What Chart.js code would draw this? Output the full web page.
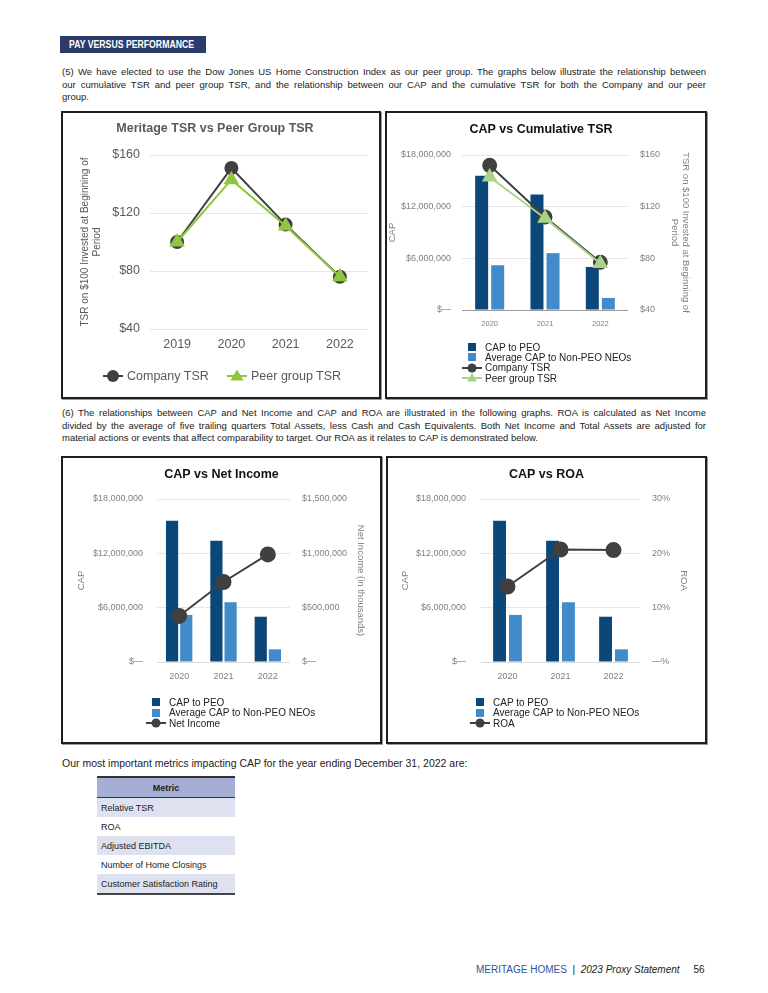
<!DOCTYPE html>
<html>
<head>
<meta charset="utf-8">
<script src="https://cdn.jsdelivr.net/npm/chart.js@4.4.1/dist/chart.umd.min.js"></script>
<style>
  body { margin: 0; width: 768px; height: 993px; background: #fff; position: relative; overflow: hidden;
         font-family: "Liberation Sans", Arial, sans-serif; color: #222; }
  .abs { position: absolute; }
  .box { position: absolute; border: 2px solid #1e1e1e; box-shadow: 1px 1px 0 #9a9a9a; background: #fff; }
  .box canvas { position: absolute; left: 0; top: 0; }
  .para { position: absolute; left: 62px; width: 644px; font-size: 9.5px; line-height: 12.6px; }
  .para div { text-align: justify; text-align-last: justify; white-space: nowrap; }
  .para div.last { text-align-last: left; }
  .header { left: 60px; top: 36px; width: 146px; height: 17px; background: #2d3b6b; color: #fff;
            font-weight: bold; font-size: 10px; line-height: 17px; padding-left: 9px; box-sizing: border-box;
            white-space: nowrap; overflow: hidden; }
  .header span { display: inline-block; transform: scaleX(0.87); transform-origin: 0 50%; }
  .lg { position: absolute; display: flex; align-items: center; font-size: 10px; color: #222; white-space: nowrap; height: 12px; }
  .lg svg { flex: none; }
  table { position: absolute; left: 97px; top: 776px; width: 138px; border-collapse: collapse; font-size: 9px; }
  th { background: #a5aed4; font-weight: bold; height: 19px; border-top: 2px solid #333; border-bottom: 1.5px solid #333; padding: 0; }
  td { height: 19px; padding: 0 0 0 4px; }
  tr.sh td { background: #dde1f0; }
  tr.end td { border-bottom: 2px solid #444; }
</style>
</head>
<body>

<div class="abs header"><span>PAY VERSUS PERFORMANCE</span></div>

<div class="para" style="top:66px">
  <div>(5) We have elected to use the Dow Jones US Home Construction Index as our peer group. The graphs below illustrate the relationship between</div>
  <div>our cumulative TSR and peer group TSR, and the relationship between our CAP and the cumulative TSR for both the Company and our peer</div>
  <div class="last">group.</div>
</div>

<div class="box" id="box1" style="left:61px;top:111px;width:316px;height:284px"><canvas id="tsrChart" width="316" height="284"></canvas></div>
<div class="box" id="box2" style="left:385px;top:111px;width:318px;height:284px"><canvas id="capTsrChart" width="318" height="284"></canvas></div>

<div class="para" style="top:407px">
  <div>(6) The relationships between CAP and Net Income and CAP and ROA are illustrated in the following graphs. ROA is calculated as Net Income</div>
  <div>divided by the average of five trailing quarters Total Assets, less Cash and Cash Equivalents. Both Net Income and Total Assets are adjusted for</div>
  <div class="last">material actions or events that affect comparability to target. Our ROA as it relates to CAP is demonstrated below.</div>
</div>

<div class="box" id="box3" style="left:61px;top:456px;width:317px;height:284px"><canvas id="capIncomeChart" width="317" height="284"></canvas></div>
<div class="box" id="box4" style="left:386px;top:456px;width:317px;height:284px"><canvas id="capRoaChart" width="317" height="284"></canvas></div>

<div class="abs" style="left:62px;top:757px;font-size:10.5px;">Our most important metrics impacting CAP for the year ending December 31, 2022 are:</div>

<table>
  <tr><th>Metric</th></tr>
  <tr class="sh"><td>Relative TSR</td></tr>
  <tr><td>ROA</td></tr>
  <tr class="sh"><td>Adjusted EBITDA</td></tr>
  <tr><td>Number of Home Closings</td></tr>
  <tr class="sh end"><td>Customer Satisfaction Rating</td></tr>
</table>

<div class="abs" style="left:476px;top:964px;font-size:10px;white-space:nowrap;">
  <span style="color:#2f5496">MERITAGE HOMES</span>&nbsp; | &nbsp;<i>2023 Proxy Statement</i>&nbsp;&nbsp;&nbsp;&nbsp; 56
</div>

<script>
Chart.defaults.font.family = '"Liberation Sans", Arial, sans-serif';
Chart.defaults.animation = false;

// Chart 1 - Meritage TSR vs Peer Group TSR
const tsrYears = ['2019', '2020', '2021', '2022'];
const companyTsr = [100, 151, 112, 76];
const peerTsr = [100, 143, 111, 76];

// Charts 2-4 - CAP comparisons
const capYears = ['2020', '2021', '2022'];
const capPeo = [15600000, 13400000, 5000000];
const capNonPeo = [5200000, 6600000, 1400000];
const capCompanyTsr = [152, 112, 77];
const capPeerTsr = [143, 111, 76];
const netIncome = [424000, 736000, 990000]; // in thousands
const roa = [13.9, 20.7, 20.6];

// tick labels
const tsrTicks = ['$40', '$80', '$120', '$160'];
const capTicks = ['$—', '$6,000,000', '$12,000,000', '$18,000,000'];
const netIncomeTicks = ['$—', '$500,000', '$1,000,000', '$1,500,000'];
const roaTicks = ['—%', '10%', '20%', '30%'];

const PEO_BLUE = '#0b4778';
const NEO_BLUE = '#428bca';
const DARK = '#404040';
const GREEN = '#8fc640';
const LIGHT_GREEN = '#a9d38a';
const GRID = '#e6e6e6';
const TICK_GREY = '#7f7f7f';

const fixW = w => scale => { scale.width = w; };
const fixH = h => scale => { scale.height = h; };

function titleOpts(text, color, top, bottom) {
    return { display: true, text: text, color: color, font: { size: 12.5, weight: 'bold' }, padding: { top: top, bottom: bottom } };
}

// Chart 1
const tsrChart = new Chart(document.getElementById('tsrChart'), {
    type: 'line',
    data: {
        labels: tsrYears,
        datasets: [{
            label: 'Company TSR',
            data: companyTsr,
            borderColor: DARK,
            backgroundColor: DARK,
            borderWidth: 2,
            pointStyle: 'circle',
            pointRadius: 6,
            order: 1
        }, {
            label: 'Peer group TSR',
            data: peerTsr,
            borderColor: GREEN,
            backgroundColor: GREEN,
            borderWidth: 2,
            pointStyle: 'triangle',
            pointRadius: 7,
            order: 0
        }]
    },
    options: {
        responsive: false,
        layout: { padding: { right: 12 } },
        plugins: {
            legend: { display: false },
            tooltip: { enabled: false },
            title: titleOpts('Meritage TSR vs Peer Group TSR', '#595959', 8.5, 18.5)
        },
        scales: {
            x: {
                offset: true,
                grid: { display: false, drawTicks: false },
                border: { display: false },
                ticks: { color: '#595959', font: { size: 12.5 }, padding: 8 },
                afterFit: fixH(68)
            },
            y: {
                min: 40, max: 160,
                ticks: { stepSize: 40, padding: 10, color: '#595959', font: { size: 12.5 }, callback: (v, i) => tsrTicks[i] },
                grid: { color: GRID, drawTicks: false },
                border: { display: false },
                title: { display: true, text: ['TSR on $100 Invested at Beginning of', 'Period'], color: '#595959', font: { size: 10 }, padding: { top: 16 } },
                afterFit: fixW(87)
            }
        }
    }
});

// shared builder for the bar + line charts
function capChart(canvasId, lines, right, geo) {
    const datasets = [{
        label: 'CAP to PEO',
        data: capPeo,
        backgroundColor: PEO_BLUE,
        yAxisID: 'y',
        order: 5,
        categoryPercentage: geo.cat,
        barPercentage: geo.bar
    }, {
        label: 'Average CAP to Non-PEO NEOs',
        data: capNonPeo,
        backgroundColor: NEO_BLUE,
        yAxisID: 'y',
        order: 5,
        categoryPercentage: geo.cat,
        barPercentage: geo.bar
    }];
    lines.forEach(l => datasets.push(Object.assign({
        type: 'line',
        yAxisID: 'y1',
        borderWidth: 2,
        tension: 0
    }, l)));

    return new Chart(document.getElementById(canvasId), {
        type: 'bar',
        data: { labels: capYears, datasets: datasets },
        options: {
            responsive: false,
            layout: { padding: { right: geo.padRight || 0 } },
            plugins: {
                legend: { display: false },
                tooltip: { enabled: false },
                title: titleOpts(geo.title, '#111', geo.titleTop, geo.titleBottom)
            },
            scales: {
                x: {
                    grid: { display: false, drawTicks: false },
                    border: { display: false },
                    ticks: { color: TICK_GREY, font: { size: geo.xFont }, padding: geo.xPad },
                    afterFit: fixH(geo.xHeight)
                },
                y: {
                    position: 'left',
                    min: 0, max: 18000000,
                    ticks: { stepSize: 6000000, padding: geo.yPad, color: TICK_GREY, font: { size: 9 }, callback: (v, i) => capTicks[i] },
                    grid: { color: ctx => ctx.index === 0 ? geo.base : GRID, drawTicks: false },
                    border: { display: false },
                    title: { display: true, text: 'CAP', color: TICK_GREY, font: { size: 9.5 }, padding: { top: geo.yTitlePad } },
                    afterFit: fixW(geo.yWidth)
                },
                y1: {
                    position: 'right',
                    min: right.min, max: right.max,
                    ticks: { stepSize: right.step, padding: 12, color: TICK_GREY, font: { size: 9 }, callback: (v, i) => right.ticks[i] },
                    grid: { drawOnChartArea: false, drawTicks: false },
                    border: { display: false },
                    title: { display: true, text: right.title, color: TICK_GREY, font: { size: 9.5 }, padding: { top: geo.y1TitlePad } },
                    afterFit: fixW(geo.y1Width)
                }
            }
        }
    });
}

const capTsrChart = capChart('capTsrChart', [{
    label: 'Company TSR', data: capCompanyTsr, borderColor: DARK, backgroundColor: DARK,
    pointStyle: 'circle', pointRadius: 6.5, order: 1
}, {
    label: 'Peer group TSR', data: capPeerTsr, borderColor: LIGHT_GREEN, backgroundColor: LIGHT_GREEN,
    pointStyle: 'triangle', pointRadius: 7, order: 0
}], {
    min: 40, max: 160, step: 40, ticks: tsrTicks, title: ['TSR on $100 Invested at Beginning of', 'Period']
}, {
    title: 'CAP vs Cumulative TSR', titleTop: 9.5, titleBottom: 17.5, padRight: 10,
    xFont: 7.5, xPad: 9, xHeight: 87, yPad: 11, yWidth: 75, yTitlePad: 0, y1Width: 67, y1TitlePad: 3.3,
    base: '#9a9a9a', cat: 0.58, bar: 0.81
});

const capIncomeChart = capChart('capIncomeChart', [{
    label: 'Net Income', data: netIncome, borderColor: DARK, backgroundColor: DARK,
    pointStyle: 'circle', pointRadius: 7, order: 0
}], {
    min: 0, max: 1500000, step: 500000, ticks: netIncomeTicks, title: 'Net Income (in thousands)'
}, {
    title: 'CAP vs Net Income', titleTop: 9.5, titleBottom: 16.5,
    xFont: 9, xPad: 9, xHeight: 80, yPad: 14, yWidth: 94, yTitlePad: 13, y1Width: 90, y1TitlePad: 13.3,
    base: '#dcdcdc', cat: 0.64, bar: 0.86
});

const capRoaChart = capChart('capRoaChart', [{
    label: 'ROA', data: roa, borderColor: DARK, backgroundColor: DARK,
    pointStyle: 'circle', pointRadius: 7, order: 0
}], {
    min: 0, max: 30, step: 10, ticks: roaTicks, title: 'ROA'
}, {
    title: 'CAP vs ROA', titleTop: 9.5, titleBottom: 16.5,
    xFont: 9, xPad: 9, xHeight: 80, yPad: 15, yWidth: 93, yTitlePad: 12, y1Width: 65, y1TitlePad: 16,
    base: '#dcdcdc', cat: 0.6, bar: 0.81
});

// legend marker drawn as small svg: square for bars, line + point for lines
function marker(ds, w, r) {
    const c = ds.backgroundColor;
    if (!ds.pointStyle) {
        return `<svg width="${w}" height="12"><rect x="${w / 2 - 4}" y="2" width="8" height="8" fill="${c}"/></svg>`;
    }
    const mid = w / 2;
    let pt = `<circle cx="${mid}" cy="6" r="${r}" fill="${c}"/>`;
    if (ds.pointStyle === 'triangle') {
        const t = r * 1.1;
        pt = `<polygon points="${mid},${6 - t} ${mid + t},${6 + t * 0.7} ${mid - t},${6 + t * 0.7}" fill="${c}"/>`;
    }
    return `<svg width="${w}" height="14" viewBox="0 -1 ${w} 14"><line x1="0" y1="6" x2="${w}" y2="6" stroke="${ds.borderColor}" stroke-width="2"/>${pt}</svg>`;
}

// vertical legend list under the bar charts
function listLegend(boxId, chart, left, top, step) {
    const box = document.getElementById(boxId);
    chart.data.datasets.forEach((ds, i) => {
        const row = document.createElement('div');
        row.className = 'lg';
        row.style.left = left + 'px';
        row.style.top = (top + i * step - 6) + 'px';
        row.innerHTML = marker(ds, 20, 4.5) + `<span style="margin-left:3px">${ds.label}</span>`;
        box.appendChild(row);
    });
}

// horizontal legend for chart 1
const lgLeft = [40, 164];
tsrChart.data.datasets.forEach((ds, i) => {
    const row = document.createElement('div');
    row.className = 'lg';
    row.style.left = lgLeft[i] + 'px';
    row.style.top = (263 - 6) + 'px';
    row.style.fontSize = '12.5px';
    row.style.color = '#595959';
    row.innerHTML = marker(ds, 20, 6) + `<span style="margin-left:4px">${ds.label}</span>`;
    document.getElementById('box1').appendChild(row);
});

listLegend('box2', capTsrChart, 75, 234, 10.4);
listLegend('box3', capIncomeChart, 83, 244, 10.5);
listLegend('box4', capRoaChart, 82, 244, 10.5);
</script>
</body>
</html>
